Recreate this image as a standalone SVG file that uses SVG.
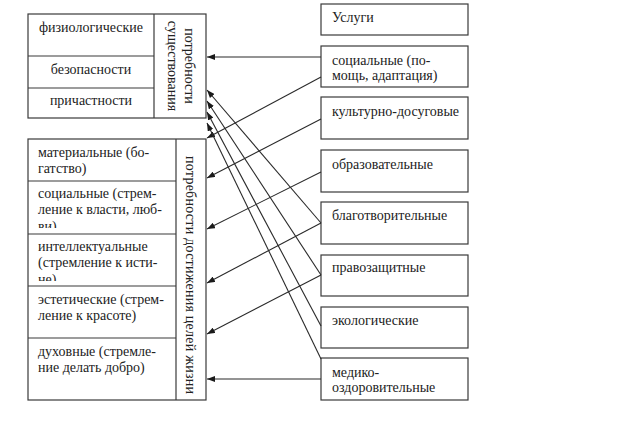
<svg xmlns="http://www.w3.org/2000/svg" width="623" height="434" viewBox="0 0 623 434">
<style>
.box{fill:#fff;stroke:#3a3a3a;stroke-width:1.2}
.t{font-family:"Liberation Serif","Times New Roman",serif;font-size:14px;fill:#222}
.c{text-anchor:middle}
.ln{stroke:#2a2a2a;stroke-width:1.1;fill:none;marker-end:url(#ah)}
</style>
<defs>
<marker id="ah" markerUnits="userSpaceOnUse" markerWidth="8" markerHeight="6" refX="8" refY="3" orient="auto">
<path d="M0,0 L8,3 L0,6 z" fill="#1a1a1a"/>
</marker>
<clipPath id="cr2"><rect x="28" y="181" width="148" height="47"/></clipPath>
<clipPath id="cr3"><rect x="28" y="234" width="148" height="47"/></clipPath>
</defs>
<rect width="623" height="434" fill="#fff"/>

<g id="existence-needs">
<rect class="box" x="28" y="14" width="178" height="104"/>
<line class="box" x1="154" y1="14" x2="154" y2="118"/>
<g id="need-physiological">
<line class="box" x1="28" y1="56" x2="154" y2="56"/>
<text class="t c" x="91" y="32">физиологические</text>
</g>
<g id="need-safety">
<line class="box" x1="28" y1="88" x2="154" y2="88"/>
<text class="t c" x="91" y="74">безопасности</text>
</g>
<g id="need-belonging">
<text class="t c" x="91" y="105">причастности</text>
</g>
<g id="label-existence">
<text class="t c" transform="translate(185,66) rotate(90)">потребности</text>
<text class="t c" transform="translate(168,66) rotate(90)">существования</text>
</g>
</g>

<g id="achievement-needs">
<rect class="box" x="28" y="139" width="178" height="261"/>
<line class="box" x1="176" y1="139" x2="176" y2="400"/>
<g id="need-material">
<text class="t" x="38" y="157">материальные (бо-</text>
<text class="t" x="38" y="173">гатство)</text>
</g>
<g id="need-social">
<line class="box" x1="28" y1="181" x2="176" y2="181"/>
<g clip-path="url(#cr2)">
<text class="t" x="38" y="198">социальные (стрем-</text>
<text class="t" x="38" y="214">ление к власти, люб-</text>
<text class="t" x="38" y="231">ви)</text>
</g>
</g>
<g id="need-intellectual">
<line class="box" x1="28" y1="234" x2="176" y2="234"/>
<g clip-path="url(#cr3)">
<text class="t" x="38" y="251">интеллектуальные</text>
<text class="t" x="38" y="267">(стремление к исти-</text>
<text class="t" x="38" y="284">не)</text>
</g>
</g>
<g id="need-aesthetic">
<line class="box" x1="28" y1="286" x2="176" y2="286"/>
<text class="t" x="38" y="304">эстетические (стрем-</text>
<text class="t" x="38" y="320">ление к красоте)</text>
</g>
<g id="need-spiritual">
<line class="box" x1="28" y1="338" x2="176" y2="338"/>
<text class="t" x="38" y="356">духовные (стремле-</text>
<text class="t" x="38" y="372">ние делать добро)</text>
</g>
<g id="label-achievement">
<text class="t c" transform="translate(186,275) rotate(90)" textLength="238">потребности достижения целей жизни</text>
</g>
</g>

<g id="services-header">
<rect class="box" x="321" y="4" width="147" height="31"/>
<text class="t" x="332" y="22">Услуги</text>
</g>
<g id="svc-social">
<rect class="box" x="321" y="46" width="147" height="41"/>
<text class="t" x="332" y="65">социальные (по-</text>
<text class="t" x="332" y="80">мощь, адаптация)</text>
</g>
<g id="svc-cultural">
<rect class="box" x="321" y="97" width="147" height="42"/>
<text class="t" x="332" y="116">культурно-досуговые</text>
</g>
<g id="svc-educational">
<rect class="box" x="321" y="150" width="147" height="42"/>
<text class="t" x="332" y="169">образовательные</text>
</g>
<g id="svc-charity">
<rect class="box" x="321" y="202" width="147" height="42"/>
<text class="t" x="332" y="220">благотворительные</text>
</g>
<g id="svc-legal">
<rect class="box" x="321" y="255" width="147" height="41"/>
<text class="t" x="332" y="272">правозащитные</text>
</g>
<g id="svc-ecological">
<rect class="box" x="321" y="307" width="147" height="41"/>
<text class="t" x="332" y="325">экологические</text>
</g>
<g id="svc-medical">
<rect class="box" x="321" y="358" width="147" height="42"/>
<text class="t" x="332" y="377">медико-</text>
<text class="t" x="332" y="392">оздоровительные</text>
</g>

<g id="connectors">
<line class="ln" x1="321" y1="57" x2="207" y2="57"/>
<line class="ln" x1="321" y1="77" x2="207" y2="138"/>
<line class="ln" x1="321" y1="119" x2="207" y2="178"/>
<line class="ln" x1="321" y1="172" x2="207" y2="229"/>
<line class="ln" x1="321" y1="223" x2="207" y2="283"/>
<line class="ln" x1="321" y1="275" x2="207" y2="334"/>
<line class="ln" x1="321" y1="379" x2="207" y2="379"/>
<line class="ln" x1="321" y1="223" x2="207" y2="90"/>
<line class="ln" x1="321" y1="275" x2="207" y2="101"/>
<line class="ln" x1="321" y1="326" x2="207" y2="112"/>
<line class="ln" x1="321" y1="359" x2="207" y2="123"/>
</g>
</svg>
